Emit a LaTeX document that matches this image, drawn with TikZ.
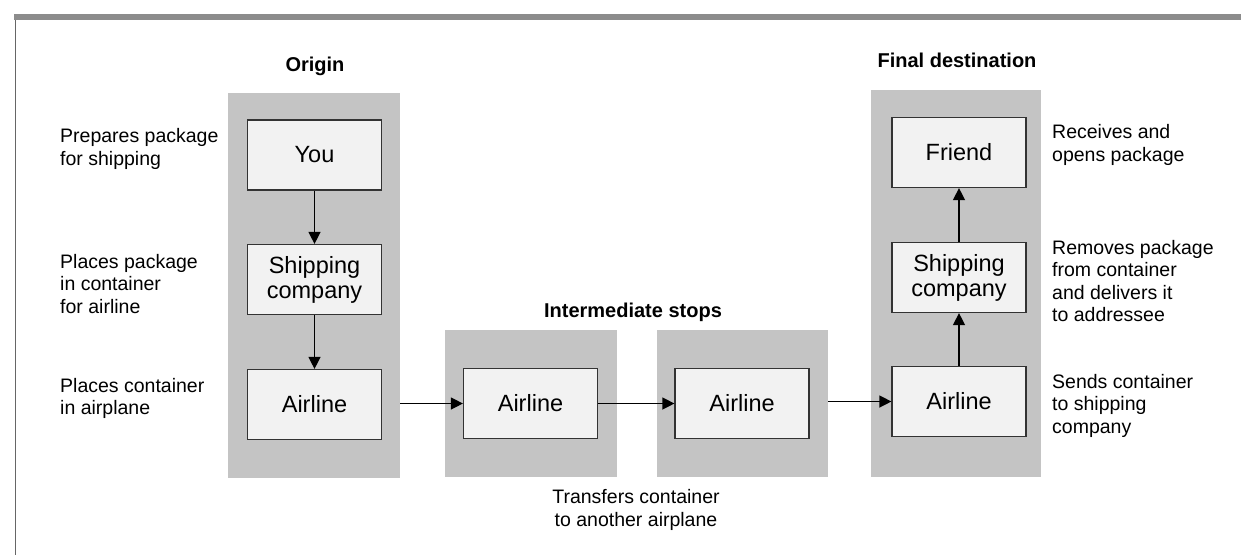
\documentclass[tikz,border=0pt]{standalone}
\usepackage{fontspec}
\setmainfont{Liberation Sans}
\usetikzlibrary{arrows.meta}

\begin{document}
\begin{tikzpicture}[
  x=1pt, y=-1pt,
  >={Triangle[length=12pt,width=12pt]},
  panel/.style={fill=black!23, inner sep=0pt},
  stop/.style={draw=black!80, line width=1.2pt, fill=black!5, minimum width=134pt,
    minimum height=70pt, inner sep=0pt, align=center, font=\fontsize{23.5}{25}\selectfont},
  note/.style={align=left, inner sep=0pt, font=\fontsize{19.5}{22.5}\selectfont},
  head/.style={font=\fontsize{20}{22}\selectfont\bfseries},
  flow/.style={->, line width=1.3pt},
]
\useasboundingbox (0,0) rectangle (1241,555);

% frame
\fill [black!45] (14,14) rectangle (1241,20);
\draw [black!60, line width=1pt] (15,20) -- (15,555);

% shaded panels
\node [panel, minimum width=172pt, minimum height=385pt] (opanel) at (314,285.5) {};
\node [panel, minimum width=172pt, minimum height=147pt] (ipanel1) at (531,403.5) {};
\node [panel, minimum width=171pt, minimum height=147pt] (ipanel2) at (742.5,403.5) {};
\node [panel, minimum width=170pt, minimum height=387pt] (fpanel) at (956,283.5) {};

% headings
\node [head] (origin) at (315,66) {Origin};
\node [head] (inter) at (633,312) {Intermediate stops};
\node [head] (final) at (957,60) {Final destination};

% stops
\node [stop] (you) at (314.5,155) {You};
\node [stop] (oship) at (314.5,279.5) {Shipping\\company};
\node [stop] (oair) at (314.5,404.5) {Airline};
\node [stop] (iair1) at (530.5,403.5) {Airline};
\node [stop] (iair2) at (742,403.5) {Airline};
\node [stop] (friend) at (959,152.5) {Friend};
\node [stop] (fship) at (959,277.5) {Shipping\\company};
\node [stop] (fair) at (959,401.5) {Airline};

% notes
\node [note, anchor=west] (prep) at (60,149) {Prepares package\\for shipping};
\node [note, anchor=west] (place) at (60,284) {Places package\\in container\\for airline};
\node [note, anchor=west] (load) at (60,398.5) {Places container\\in airplane};
\node [note, anchor=west] (recv) at (1052,145) {Receives and\\opens package};
\node [note, anchor=west] (remove) at (1052,281) {Removes package\\from container\\and delivers it\\to addressee};
\node [note, anchor=west] (send) at (1052,405.5) {Sends container\\to shipping\\company};
\node [note, align=center] (transfer) at (636,510) {Transfers container\\to another airplane};

% connectors
\draw [flow] (you) -- (oship);
\draw [flow] (oship) -- (oair);
\draw [flow] (opanel.east |- iair1.west) -- (iair1.west);
\draw [flow] (iair1) -- (iair2);
\draw [flow] (ipanel2.east |- fair.west) -- (fair.west);
\draw [flow] (fair) -- (fship);
\draw [flow] (fship) -- (friend);

\end{tikzpicture}
\end{document}
